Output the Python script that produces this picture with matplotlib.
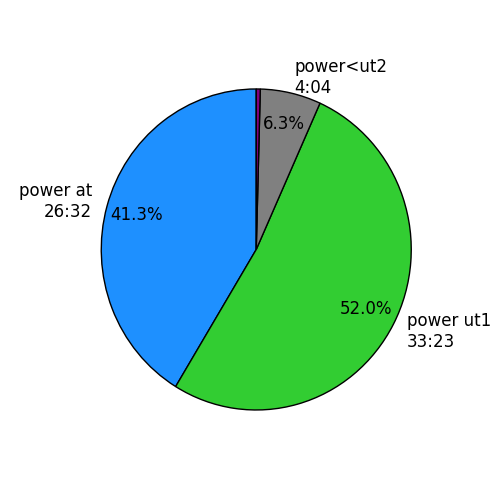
import matplotlib
matplotlib.use('Agg')
import matplotlib.pyplot as plt

names = ['power at', 'power ut1', 'power<ut2', '']
times = ['26:32', '33:23', '4:04', '']
seconds = [1592, 2003, 244, 16]
colors = ['dodgerblue', 'limegreen', 'grey', 'purple']

labels = [f'{n}\n{t}' if n else '' for n, t in zip(names, times)]

fig = plt.figure(figsize=(5, 5), dpi=100)
ax = fig.add_axes([0.125, 0.0998, 0.775, 0.8025])
ax.pie(seconds, labels=labels, colors=colors, startangle=90,
       autopct=lambda p: f'{p:.1f}%' if p > 1 else '',
       pctdistance=0.8,
       wedgeprops={'edgecolor': 'black', 'linewidth': 1},
       textprops={'fontsize': 12})
ax.set_aspect('auto')
ax.set_xlim(-1.25, 1.25)
ax.set_ylim(-1.25, 1.25)

fig.savefig('out.png')
